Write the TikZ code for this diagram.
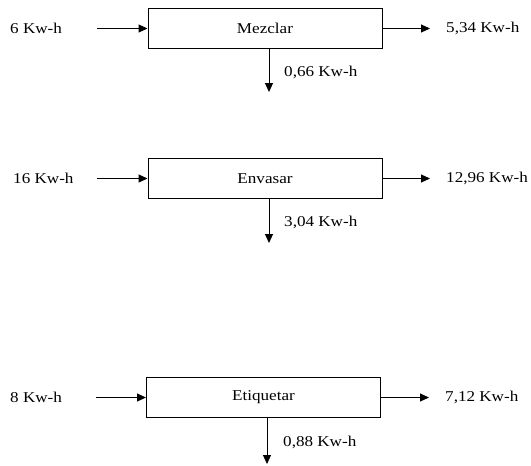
\documentclass[tikz,border=0pt]{standalone}
\usepackage{fontspec}
\setmainfont[FakeStretch=1.14]{Liberation Serif}
\usetikzlibrary{arrows.meta}
\begin{document}
\begin{tikzpicture}[x=1pt,y=-1pt,
  proc/.style={draw,line width=1pt,minimum width=234pt,minimum height=39.5pt,inner sep=0pt,font=\fontsize{15}{18}\selectfont},
  lbl/.style={anchor=west,inner sep=0pt,font=\fontsize{15}{18}\selectfont},
  arr/.style={line width=1pt,-{Triangle[length=9pt,width=8pt]}}]
\useasboundingbox (0,0) rectangle (531,466);

% Mezclar
\node[proc] (b1) at (265,28.5) {Mezclar};
\coordinate (i1) at (97,28.5);
\coordinate (o1) at (430,28.5);
\coordinate (d1) at (269,92);
\node[lbl] (l1a) at (10,28.5) {6 Kw-h};
\node[lbl] (l1b) at (446,28.5) {5,34 Kw-h};
\node[lbl] (l1c) at (284,72) {0,66 Kw-h};
\draw[arr] (i1) -- (b1.west);
\draw[arr] (b1.east) -- (o1);
\draw[arr] (d1 |- b1.south) -- (d1);

% Envasar
\node[proc] (b2) at (265,178.5) {Envasar};
\coordinate (i2) at (97,178.5);
\coordinate (o2) at (430,178.5);
\coordinate (d2) at (269,243);
\node[lbl] (l2a) at (13,178.5) {16 Kw-h};
\node[lbl] (l2b) at (446,178.5) {12,96 Kw-h};
\node[lbl] (l2c) at (284,222) {3,04 Kw-h};
\draw[arr] (i2) -- (b2.west);
\draw[arr] (b2.east) -- (o2);
\draw[arr] (d2 |- b2.south) -- (d2);

% Etiquetar
\node[proc] (b3) at (263.5,397.5) {Etiquetar};
\coordinate (i3) at (95.5,397.5);
\coordinate (o3) at (429,397.5);
\coordinate (d3) at (267,464);
\node[lbl] (l3a) at (10,397.5) {8 Kw-h};
\node[lbl] (l3b) at (445,397.5) {7,12 Kw-h};
\node[lbl] (l3c) at (283,442) {0,88 Kw-h};
\draw[arr] (i3) -- (b3.west);
\draw[arr] (b3.east) -- (o3);
\draw[arr] (d3 |- b3.south) -- (d3);
\end{tikzpicture}
\end{document}
